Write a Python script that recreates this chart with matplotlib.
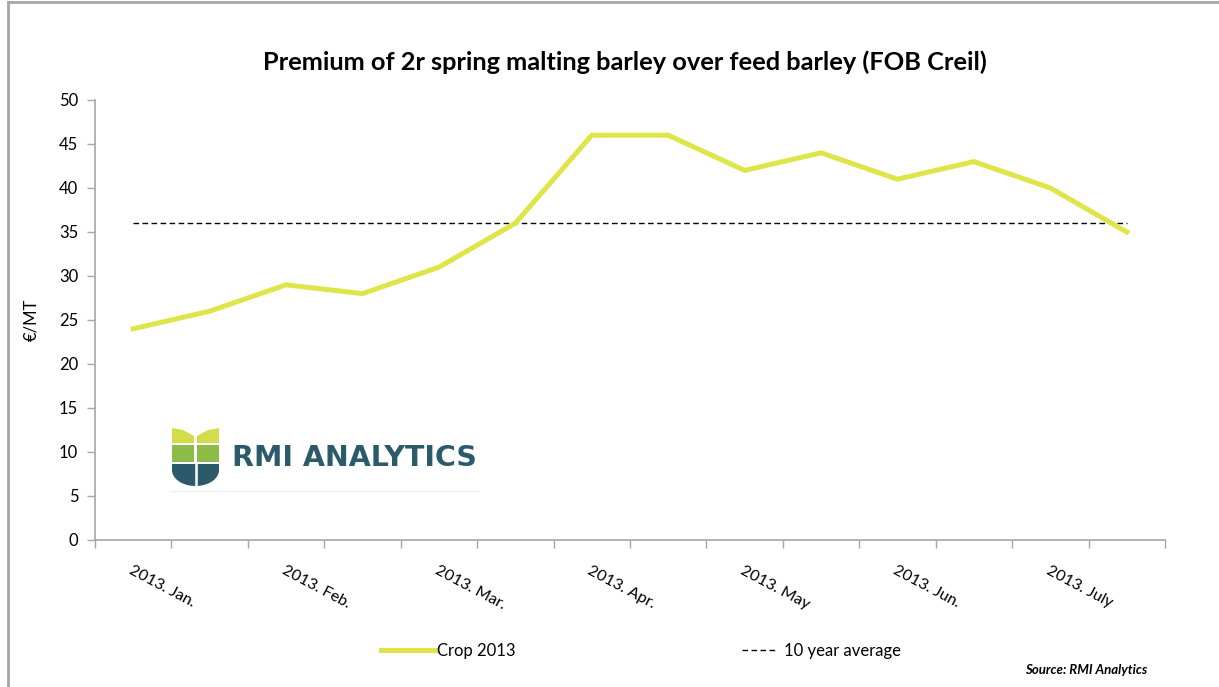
#!/usr/bin/env python3

import numpy as np
import matplotlib
matplotlib.use("Agg")
from matplotlib import pyplot as plt
from matplotlib.patches import Polygon, Rectangle
from matplotlib.lines import Line2D

# data (half-month steps, Jan 2013 - July 2013)
periods = ["2013. Jan.", "", "2013. Feb.", "", "2013. Mar.", "", "2013. Apr.", "",
           "2013. May", "", "2013. Jun.", "", "2013. July", ""]
crop_2013 = [24, 26, 29, 28, 31, 36, 46, 46, 42, 44, 41, 43, 40, 35]
avg_10y = [36] * len(crop_2013)

W, H = 1219, 687
FONT = "Lato"
plt.rcParams["font.family"] = [FONT, "DejaVu Sans"]

GREY = "#a6a6a6"
LINE_COL = "#dde548"


def make_plot():
    fig = plt.figure(figsize=(W / 100, H / 100), dpi=100)
    ax = fig.add_axes([95 / W, 1 - 540 / H, (1165 - 95) / W, 440 / H])
    ax.patch.set_alpha(0)

    x = list(range(len(crop_2013)))
    ax.plot(x, crop_2013, color=LINE_COL, lw=3.6, solid_joinstyle="miter",
            label="Crop 2013", zorder=3)
    ax.plot(x, avg_10y, color="black", lw=1.0, ls=(0, (4, 2.5)),
            label="10 year average", zorder=2)

    ax.set_xlim(-0.5, len(x) - 0.5)
    ax.set_ylim(0, 50)
    ax.set_yticks(range(0, 51, 5))
    ax.tick_params(axis="y", length=6, width=1, color=GREY, labelsize=12, pad=6)

    lab_pos = [i for i, p in enumerate(periods) if p]
    ax.set_xticks(lab_pos)
    ax.set_xticklabels([periods[i] for i in lab_pos], rotation=-28, ha="left",
                       va="top", rotation_mode="anchor", fontsize=11.5)
    ax.set_xticks([i - 0.5 for i in range(len(x) + 1)], minor=True)
    ax.tick_params(axis="x", which="major", length=0, pad=17)
    ax.tick_params(axis="x", which="minor", length=6, width=1, color=GREY)

    for s in ["top", "right"]:
        ax.spines[s].set_visible(False)
    for s in ["left", "bottom"]:
        ax.spines[s].set_color(GREY)
        ax.spines[s].set_linewidth(1.2)

    ax.set_ylabel("€/MT", fontsize=12)
    ax.yaxis.set_label_coords(-0.052, 0.5)

    fig.text(625 / W, 1 - 62 / H, "Premium of 2r spring malting barley over feed barley (FOB Creil)",
             ha="center", va="center", fontsize=18.3, fontweight="bold")

    # legend, split in two like the original
    h1, h2 = ax.get_legend_handles_labels()[0]
    fig.legend([h1], ["Crop 2013"], loc="center left", bbox_to_anchor=(366 / W, 1 - 651 / H),
               frameon=False, fontsize=12, handlelength=3.3, handletextpad=0.05)
    fig.legend([h2], ["10 year average"], loc="center left", bbox_to_anchor=(727 / W, 1 - 651 / H),
               frameon=False, fontsize=12, handlelength=2.0, handletextpad=0.5)

    fig.text(1147 / W, 1 - 670 / H, "Source: RMI Analytics", ha="right", va="center",
             fontsize=9.5, fontweight="bold", fontstyle="italic")

    # overlay in pixel coords for frame and logo
    ov = fig.add_axes([0, 0, 1, 1], zorder=-1)
    ov.set_xlim(0, W)
    ov.set_ylim(H, 0)
    ov.axis("off")
    ov.add_line(Line2D([8, 8], [2, H], color=GREY, lw=2))
    ov.add_line(Line2D([8, W], [2, 2], color=GREY, lw=2))

    # logo
    yel, grn, dark = "#d3dc4b", "#8dbb47", "#2b5a6b"
    ov.add_patch(Polygon([[172, 428], [183, 430], [194, 436], [194, 443], [172, 443]], color=yel, lw=0))
    ov.add_patch(Polygon([[197, 436], [208, 430], [219, 428], [219, 443], [197, 443]], color=yel, lw=0))
    ov.add_patch(Rectangle((172, 445), 22, 17, color=grn, lw=0))
    ov.add_patch(Rectangle((197, 445), 22, 17, color=grn, lw=0))
    t = np.linspace(0, np.pi, 40)
    bowl = np.column_stack([195.5 + 23.5 * np.cos(t), 470 + 16 * np.sin(t)])
    bowl = np.vstack([[[219, 464]], bowl, [[172, 464]]])
    ov.add_patch(Polygon(bowl, color=dark, lw=0))
    ov.add_line(Line2D([195.5, 195.5], [464, 490], color="white", lw=1.8))
    ov.text(232, 458, "RMI ANALYTICS", ha="left", va="center", fontsize=20.5,
            fontweight="bold", color=dark, family="DejaVu Sans")
    ov.add_line(Line2D([170, 478], [491, 491], color="#f0f0f0", lw=1))

    fig.savefig("out.png", dpi=100)


if __name__ == "__main__":
    make_plot()
